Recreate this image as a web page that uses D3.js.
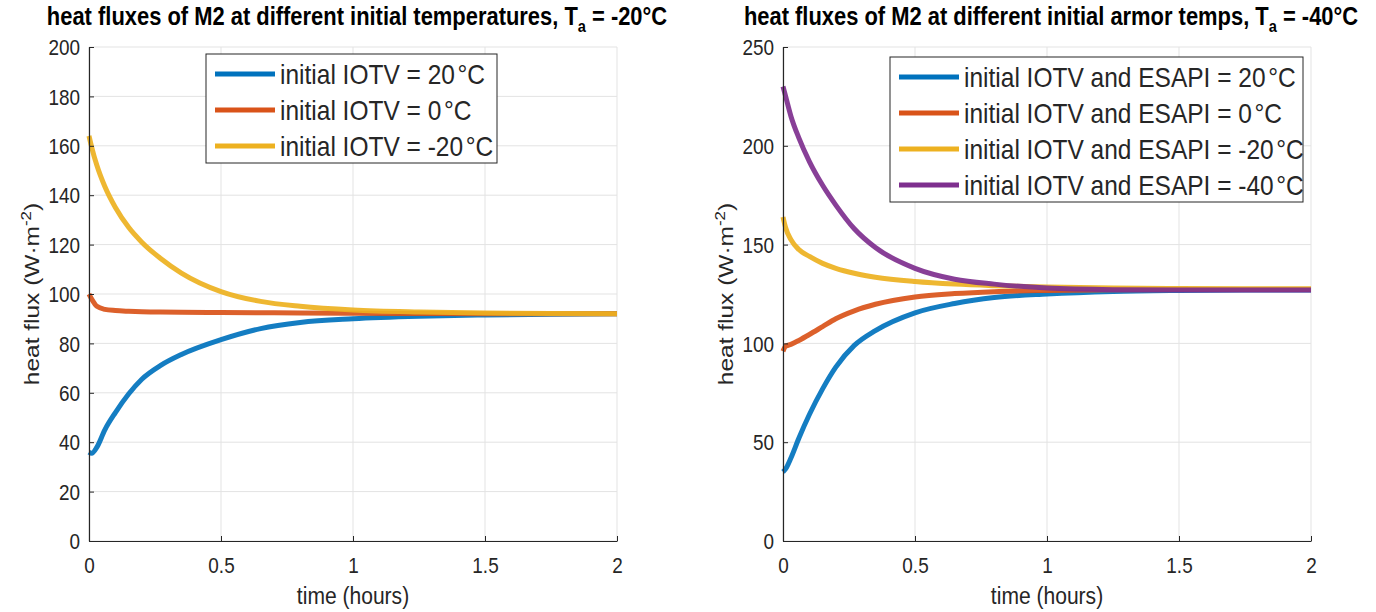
<!DOCTYPE html>
<html>
<head>
<meta charset="utf-8">
<script src="https://cdn.jsdelivr.net/npm/d3@7"></script>
<style>
  body { margin: 0; background: #fff; }
  svg { display: block; font-family: "Liberation Sans", Arial, sans-serif; }
</style>
</head>
<body>
<svg id="chart" width="1376" height="612"></svg>
<script>
// time axis (hours), shared by every series
const times = [0, 0.01, 0.03, 0.06, 0.1, 0.15, 0.2, 0.27, 0.35, 0.5, 0.65, 0.8, 1.0, 1.25, 1.5, 1.75, 2.0];

// left panel, Ta = -20 C
const leftIotv20  = [36, 35.5, 38, 45, 52, 59.5, 65.5, 71, 75.5, 81.5, 86, 88.5, 90, 91, 91.5, 91.8, 92];
const leftIotv0   = [100, 98, 95, 93.8, 93.3, 93, 92.8, 92.7, 92.6, 92.5, 92.4, 92.3, 92.2, 92.1, 92, 92, 92];
const leftIotvM20 = [164, 159.5, 152, 143.5, 135, 127, 121, 114.5, 108.5, 101, 97, 95, 93.5, 92.7, 92.3, 92.1, 92];
const leftLabels  = ["initial IOTV = 20", "initial IOTV = 0", "initial IOTV = -20"];

// right panel, Ta = -40 C
const rightEsapi20  = [35, 36.5, 42, 52, 64, 77, 88, 99, 106.5, 115.5, 120.2, 123.2, 125, 126.3, 126.8, 127, 127];
const rightEsapi0   = [96, 98.5, 99.5, 101.5, 104.5, 108.5, 112.5, 116.5, 119.8, 123.5, 125.2, 126.2, 126.8, 127.2, 127.3, 127.3, 127.3];
const rightEsapiM20 = [164, 158.5, 152.5, 147.5, 144, 140.5, 138, 135.5, 133.5, 131.3, 130, 129.2, 128.5, 128, 127.8, 127.7, 127.7];
const rightEsapiM40 = [230, 225, 215, 204, 192, 180, 170, 158, 148.5, 138, 132.5, 130, 128, 127.2, 127, 127, 127];
const rightLabels   = ["initial IOTV and ESAPI = 20", "initial IOTV and ESAPI = 0",
                       "initial IOTV and ESAPI = -20", "initial IOTV and ESAPI = -40"];

const xTicks = [0, 0.5, 1, 1.5, 2];
const leftYTicks = d3.range(0, 201, 20);
const rightYTicks = d3.range(0, 251, 50);

const colors = ["#0072BD", "#D95319", "#EDB120", "#7E2F8E"];
const ink = "#262626";
const gridColor = "#e3e3e3";
const SX = 0.86; // the picture is squeezed sideways, text follows it

let svg = d3.select("#chart");

function drawPanel(opts) {
    let left = opts.left, top = 47, width = 528, height = 494;
    let g = svg.append("g").attr("transform", "translate(" + left + "," + top + ")");

    let x = d3.scaleLinear().domain([0, 2]).range([0, width]);
    let y = d3.scaleLinear().domain([0, opts.yMax]).range([height, 0]);

    // grid
    g.append("g").selectAll("line").data(xTicks).join("line")
        .attr("x1", d => x(d)).attr("x2", d => x(d))
        .attr("y1", 0).attr("y2", height)
        .attr("stroke", gridColor);
    g.append("g").selectAll("line").data(opts.yTicks).join("line")
        .attr("x1", 0).attr("x2", width)
        .attr("y1", d => y(d)).attr("y2", d => y(d))
        .attr("stroke", gridColor);

    // series
    let line = d3.line()
        .x((d, i) => x(times[i]))
        .y(d => y(d))
        .curve(d3.curveMonotoneX);
    opts.series.forEach((s, i) => {
        g.append("path")
            .datum(s)
            .attr("fill", "none")
            .attr("stroke", colors[i])
            .attr("stroke-width", 5)
            .attr("stroke-opacity", 0.92)
            .attr("stroke-linejoin", "round")
            .attr("d", line);
    });

    // axes, ticks point inward
    let xAxis = g.append("g")
        .attr("transform", "translate(0," + height + ")")
        .call(d3.axisBottom(x).tickValues(xTicks).tickSizeInner(-5).tickSizeOuter(0)
            .tickFormat(d3.format("")));
    let yAxis = g.append("g")
        .call(d3.axisLeft(y).tickValues(opts.yTicks).tickSizeInner(-5).tickSizeOuter(0));

    [xAxis, yAxis].forEach(a => {
        a.select(".domain").attr("stroke", ink).attr("stroke-width", 1.2);
        a.selectAll(".tick line").attr("stroke", ink);
        a.selectAll(".tick text")
            .attr("fill", ink)
            .attr("font-size", 22)
            .attr("font-family", null);
    });
    xAxis.selectAll(".tick text")
        .attr("y", 32).attr("dy", 0)
        .attr("transform", "scale(" + SX + ",1)");
    yAxis.selectAll(".tick text")
        .attr("x", -9 / SX).attr("dy", "0.35em")
        .attr("transform", "scale(" + SX + ",1)");

    // axis labels
    g.append("text")
        .attr("transform", "translate(" + (width / 2) + "," + (height + 63) + ") scale(" + SX + ",1)")
        .attr("text-anchor", "middle")
        .attr("font-size", 24.5)
        .attr("fill", ink)
        .text("time (hours)");

    let yl = g.append("text")
        .attr("transform", "translate(-50," + (height / 2) + ") rotate(-90) scale(1," + SX + ")")
        .attr("text-anchor", "middle")
        .attr("font-size", 24.5)
        .attr("fill", ink);
    yl.append("tspan").text("heat flux (W\u00b7m");
    yl.append("tspan").attr("font-size", 17).attr("dy", -9).text("-2");
    yl.append("tspan").attr("dy", 9).text(")");

    // title
    let t = g.append("text")
        .attr("transform", "translate(" + (width / 2 + 4) + ",-22) scale(" + SX + ",1)")
        .attr("text-anchor", "middle")
        .attr("font-size", 25.5)
        .attr("font-weight", "bold")
        .attr("fill", "#000");
    t.append("tspan").text(opts.title);
    t.append("tspan").attr("font-size", 17).attr("dy", 7).text("a");
    t.append("tspan").attr("dy", -7).text(" = " + opts.ta);

    // legend
    let lg = g.append("g").attr("transform", "translate(" + opts.legend.x + "," + opts.legend.y + ")");
    lg.append("rect")
        .attr("width", opts.legend.w)
        .attr("height", 20 + (opts.labels.length - 1) * 36 + 17)
        .attr("fill", "#fff")
        .attr("stroke", ink)
        .attr("stroke-width", 1);
    opts.labels.forEach((lab, i) => {
        let cy = 20 + i * 36;
        lg.append("line")
            .attr("x1", 9).attr("x2", 69)
            .attr("y1", cy).attr("y2", cy)
            .attr("stroke", colors[i])
            .attr("stroke-width", 5);
        let lt = lg.append("text")
            .attr("transform", "translate(74," + (cy + 10) + ") scale(" + SX + ",1)")
            .attr("font-size", 28.5)
            .attr("fill", ink);
        lt.append("tspan").text(lab);
        lt.append("tspan").attr("dx", 3).text("°C");
    });
}

drawPanel({
    left: 89,
    yMax: 200,
    yTicks: leftYTicks,
    series: [leftIotv20, leftIotv0, leftIotvM20],
    labels: leftLabels,
    title: "heat fluxes of M2 at different initial temperatures, T",
    ta: "-20°C",
    legend: {x: 117, y: 7, w: 291}
});

drawPanel({
    left: 783,
    yMax: 250,
    yTicks: rightYTicks,
    series: [rightEsapi20, rightEsapi0, rightEsapiM20, rightEsapiM40],
    labels: rightLabels,
    title: "heat fluxes of M2 at different initial armor temps, T",
    ta: "-40°C",
    legend: {x: 107, y: 10, w: 413}
});
</script>
</body>
</html>
